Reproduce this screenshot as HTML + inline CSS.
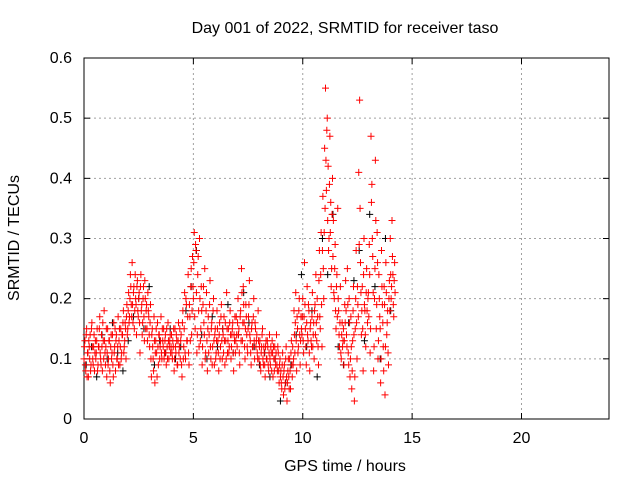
<!DOCTYPE html>
<html><head><meta charset="utf-8"><style>
html,body{margin:0;padding:0;background:#fff}
svg text{font-family:"Liberation Sans",sans-serif;font-size:16px;fill:#000}
</style></head><body>
<svg id="chart" width="640" height="480" xmlns="http://www.w3.org/2000/svg">
<rect width="640" height="480" fill="#fff"/>
<text x="345" y="33" text-anchor="middle">Day 001 of 2022, SRMTID for receiver taso</text>
<text x="345" y="471" text-anchor="middle">GPS time / hours</text>
<text transform="translate(19,238) rotate(-90)" text-anchor="middle">SRMTID / TECUs</text>
<g id="grid"></g><g id="axes"></g><g id="black"></g><g id="red"></g>
</svg>
<script>
const xTicks=[0,5,10,15,20];
const yTicks=[0,0.1,0.2,0.3,0.4,0.5,0.6];
const yTickLabels=["0","0.1","0.2","0.3","0.4","0.5","0.6"];
const redStep=0.04;
const redValues=[0.10,0.13,0.08,0.15,0.11,0.07,0.12,0.14,0.09,0.16,0.10,0.12,0.08,0.13,0.11,0.15,0.09,0.12,0.17,0.10,0.14,0.08,0.13,0.18,0.11,
0.12,0.07,0.15,0.10,0.13,0.06,0.14,0.11,0.09,0.16,0.12,0.08,0.14,0.10,0.17,0.13,0.09,0.15,0.11,0.14,0.18,0.12,0.16,0.10,0.19,
0.15,0.21,0.17,0.24,0.19,0.26,0.16,0.22,0.18,0.20,0.14,0.23,0.17,0.21,0.11,0.24,0.19,0.16,0.22,0.13,0.20,0.18,0.15,0.21,0.17,
0.12,0.19,0.07,0.15,0.10,0.17,0.06,0.13,0.11,0.16,0.09,0.14,0.12,0.17,0.10,0.13,0.15,0.11,0.14,0.09,0.12,0.16,0.10,0.13,0.11,
0.14,0.10,0.12,0.08,0.15,0.11,0.13,0.09,0.16,0.12,0.10,0.14,0.07,0.18,0.12,0.21,0.10,0.19,0.13,0.24,0.09,0.17,0.22,0.14,0.27,
0.20,0.31,0.15,0.28,0.11,0.24,0.18,0.30,0.13,0.22,0.09,0.19,0.16,0.25,0.11,0.21,0.08,0.17,0.14,0.23,0.10,0.16,0.12,0.20,0.09,
0.15,0.11,0.18,0.13,0.08,0.16,0.12,0.19,0.10,0.14,0.17,0.09,0.13,0.21,0.11,0.15,0.12,0.18,0.10,0.14,0.16,0.08,0.13,0.11,0.17,
0.12,0.20,0.15,0.09,0.18,0.25,0.13,0.22,0.16,0.10,0.19,0.14,0.11,0.17,0.23,0.13,0.09,0.16,0.12,0.20,0.10,0.15,0.13,0.11,0.18,
0.10,0.13,0.08,0.12,0.15,0.09,0.11,0.07,0.13,0.10,0.12,0.08,0.14,0.09,0.11,0.13,0.07,0.10,0.12,0.09,0.14,0.08,0.11,0.06,0.10,
0.08,0.05,0.11,0.04,0.09,0.06,0.12,0.03,0.08,0.07,0.10,0.05,0.13,0.07,0.09,0.18,0.11,0.21,0.08,0.15,0.12,0.20,0.09,0.17,0.14,
0.20,0.11,0.26,0.15,0.09,0.22,0.13,0.18,0.08,0.16,0.12,0.21,0.14,0.10,0.19,0.24,0.13,0.17,0.09,0.28,0.15,0.31,0.12,0.37,0.20,
0.45,0.55,0.38,0.50,0.42,0.30,0.47,0.36,0.25,0.40,0.33,0.20,0.29,0.15,0.24,0.35,0.18,0.12,0.22,0.10,0.16,0.13,0.09,0.19,0.23,
0.14,0.25,0.11,0.20,0.07,0.17,0.05,0.13,0.22,0.03,0.15,0.28,0.10,0.19,0.41,0.53,0.26,0.14,0.22,0.08,0.30,0.18,0.12,0.25,0.16,
0.21,0.29,0.11,0.47,0.39,0.27,0.08,0.20,0.43,0.15,0.31,0.10,0.24,0.17,0.06,0.28,0.19,0.12,0.22,0.04,0.26,0.14,0.18,0.09,0.23,
0.30,0.20,0.33,0.24,0.17,0.26];
const red2Start=0.02;
const redValues2=[0.12,0.09,0.14,0.07,0.11,0.13,0.10,0.08,0.15,0.12,0.09,0.14,0.11,0.10,0.13,0.08,0.12,0.15,0.11,0.09,0.12,0.16,0.10,0.13,0.09,
0.15,0.11,0.09,0.13,0.08,0.12,0.10,0.14,0.07,0.11,0.15,0.13,0.10,0.12,0.09,0.15,0.12,0.10,0.14,0.16,0.11,0.13,0.15,0.17,0.14,
0.18,0.16,0.20,0.22,0.17,0.19,0.21,0.15,0.24,0.19,0.22,0.18,0.20,0.16,0.22,0.18,0.14,0.20,0.17,0.23,0.15,0.19,0.13,0.18,0.14,
0.16,0.10,0.14,0.12,0.08,0.13,0.11,0.15,0.07,0.12,0.14,0.10,0.13,0.11,0.15,0.12,0.10,0.13,0.11,0.15,0.10,0.13,0.12,0.14,0.12,
0.11,0.13,0.15,0.10,0.12,0.14,0.09,0.13,0.11,0.15,0.13,0.09,0.16,0.10,0.15,0.11,0.20,0.13,0.17,0.11,0.19,0.13,0.25,0.18,0.22,
0.26,0.17,0.29,0.21,0.14,0.27,0.12,0.20,0.15,0.18,0.12,0.22,0.14,0.10,0.18,0.13,0.15,0.11,0.19,0.12,0.15,0.09,0.18,0.13,0.14,
0.10,0.13,0.15,0.11,0.14,0.10,0.17,0.13,0.15,0.11,0.13,0.16,0.10,0.15,0.13,0.11,0.16,0.14,0.12,0.15,0.11,0.14,0.17,0.13,0.14,
0.16,0.14,0.11,0.17,0.13,0.21,0.16,0.19,0.12,0.15,0.17,0.12,0.15,0.19,0.14,0.11,0.15,0.12,0.17,0.13,0.16,0.12,0.14,0.10,0.13,
0.12,0.09,0.11,0.14,0.10,0.12,0.09,0.12,0.10,0.13,0.09,0.11,0.10,0.12,0.08,0.11,0.12,0.08,0.10,0.11,0.09,0.12,0.08,0.09,0.07,
0.06,0.09,0.07,0.08,0.05,0.10,0.07,0.06,0.10,0.05,0.08,0.11,0.09,0.12,0.10,0.14,0.16,0.13,0.17,0.11,0.18,0.14,0.13,0.15,0.17,
0.13,0.17,0.19,0.12,0.16,0.14,0.19,0.11,0.15,0.13,0.17,0.12,0.16,0.18,0.14,0.16,0.20,0.12,0.23,0.17,0.24,0.19,0.28,0.25,0.31,
0.35,0.43,0.48,0.33,0.28,0.39,0.31,0.22,0.34,0.27,0.21,0.25,0.18,0.22,0.17,0.20,0.14,0.16,0.11,0.14,0.12,0.15,0.13,0.16,0.18,
0.12,0.19,0.09,0.16,0.10,0.12,0.08,0.18,0.14,0.07,0.20,0.16,0.22,0.17,0.29,0.35,0.21,0.18,0.15,0.24,0.19,0.14,0.21,0.18,0.20,
0.17,0.24,0.15,0.36,0.30,0.21,0.12,0.25,0.33,0.19,0.26,0.13,0.20,0.15,0.10,0.22,0.16,0.08,0.19,0.12,0.21,0.16,0.11,0.20,0.18,
0.24,0.22,0.27,0.19,0.23,0.21];
const blackStart=0.1, blackStep=0.24;
const blackValues=[0.09,0.12,0.07,0.14,0.10,0.16,0.11,0.08,0.13,0.17,0.20,0.15,0.22,0.09,0.13,0.11,0.15,0.10,0.12,0.18,0.22,0.28,0.14,0.10,0.17,0.12,0.15,0.19,0.11,0.14,0.21,0.16,0.12,0.09,0.11,0.07,0.10,0.03,0.06,0.09,0.14,0.24,0.12,0.18,0.07,0.30,0.24,0.34,0.12,0.09,0.16,0.23,0.28,0.13,0.34,0.22,0.10,0.30,0.18];

const L=84,R=609,T=58,B=419;
const xs=h=>L+(h/24)*(R-L);
const ys=v=>B-(v/0.6)*(B-T);
const NS="http://www.w3.org/2000/svg";
function mk(tag,parent,attrs){const e=document.createElementNS(NS,tag);for(const k in attrs)e.setAttribute(k,attrs[k]);parent.appendChild(e);return e;}
const grid=document.getElementById('grid'),axes=document.getElementById('axes');
yTicks.forEach((v,i)=>{
  const y=ys(v);
  if(i>0&&i<yTicks.length-1){const g=mk('line',grid,{x1:L,x2:R,y1:y,y2:y,stroke:'#a0a0a0','stroke-dasharray':'2,3'});
  
  }
  mk('line',axes,{x1:L,x2:L+6,y1:y,y2:y,stroke:'#000'});
  mk('line',axes,{x1:R,x2:R-6,y1:y,y2:y,stroke:'#000'});
  const t=mk('text',axes,{x:L-12,y:y+5,'text-anchor':'end'});t.textContent=yTickLabels[i];
  
  
});
xTicks.forEach((h,i)=>{
  const x=xs(h);
  if(i>0){const g=mk('line',grid,{x1:x,x2:x,y1:T,y2:B,stroke:'#a0a0a0','stroke-dasharray':'2,3'});
  
  }
  mk('line',axes,{x1:x,x2:x,y1:B,y2:B-6,stroke:'#000'});
  mk('line',axes,{x1:x,x2:x,y1:T,y2:T+6,stroke:'#000'});
  const t=mk('text',axes,{x:x,y:B+24,'text-anchor':'middle'});t.textContent=String(h);
  
  
});
const frame=mk('rect',axes,{x:L,y:T,width:R-L,height:B-T,fill:'none',stroke:'#000'});


function plus(parent,x,y,c){return mk('path',parent,{d:`M${x-3.5},${y}h7M${x},${y-3.5}v7`,stroke:c,'stroke-width':1,fill:'none'});}
const bg=document.getElementById('black');
blackValues.forEach((v,i)=>{const p=plus(bg,xs(blackStart+i*blackStep),ys(v),'#000');
  
  });
const rg=document.getElementById('red');
redValues.forEach((v,i)=>{const p=plus(rg,xs(i*redStep),ys(v),'#ff0000');
  
  });
redValues2.forEach((v,i)=>{const p=plus(rg,xs(red2Start+i*redStep),ys(v),'#ff0000');
  
  });
</script>
</body></html>
